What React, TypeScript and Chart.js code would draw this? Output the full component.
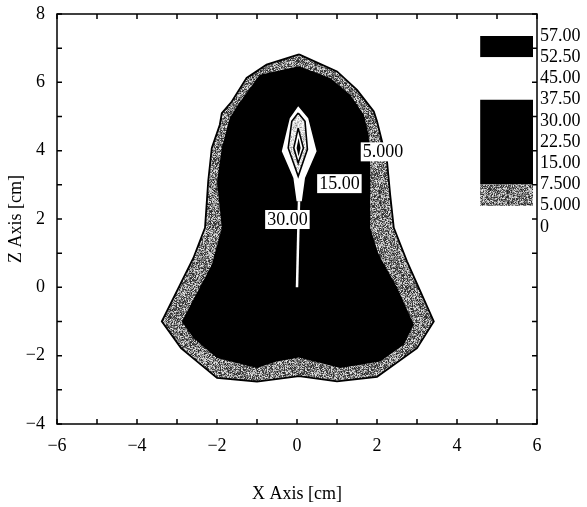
import { useEffect, useRef } from 'react';
import { Chart, registerables } from 'chart.js';

Chart.register(...registerables);

// ---- axis ticks ----
const xTickValues = [-6, -4, -2, 0, 2, 4, 6];
const zTickValues = [-4, -2, 0, 2, 4, 6, 8];

// ---- colour-scale legend ----
const legendLabels = ['57.00', '52.50', '45.00', '37.50', '30.00', '22.50', '15.00', '7.500', '5.000', '0'];
const bandFrom = [0, 1, 3, 7];
const bandTo = [1, 3, 7, 8];
const bandKind = ['black', 'white', 'black', 'gray'];

// ---- contours (x, z in cm) ----
const outerX = [0.05, 1.0, 1.5, 1.92, 2.0, 2.25, 2.33, 2.42, 2.75, 3.42, 3.0, 2.0, 1.0, 0.05, -1.0, -2.0, -2.9, -3.38, -2.59, -2.3, -2.22, -2.13, -1.93, -1.88, -1.63, -1.26, -0.76];
const outerZ = [6.82, 6.32, 5.78, 5.15, 4.86, 3.69, 2.71, 1.74, 0.76, -1.0, -1.78, -2.62, -2.75, -2.6, -2.76, -2.65, -1.78, -1.0, 0.86, 1.74, 3.1, 4.08, 4.76, 5.1, 5.44, 6.13, 6.52];

const innerX = [0.05, 0.83, 1.33, 1.67, 1.79, 1.83, 1.83, 1.83, 2.04, 2.5, 2.92, 2.67, 2.08, 1.08, 0.05, -0.51, -1.0, -2.0, -2.59, -2.88, -2.13, -1.88, -2.0, -1.88, -1.68, -1.47, -0.93];
const innerZ = [6.47, 6.13, 5.64, 5.05, 4.47, 3.69, 2.71, 1.74, 0.96, 0.0, -1.09, -1.68, -2.17, -2.36, -2.05, -2.17, -2.36, -2.07, -1.48, -1.0, 0.66, 1.74, 3.1, 4.08, 4.96, 5.35, 6.22];

const dropX = [0.03, 0.28, 0.49, 0.2, 0.12, -0.01, -0.09, -0.38, -0.18];
const dropZ = [5.3, 4.95, 3.98, 3.2, 2.52, 2.52, 3.2, 3.98, 4.95];

const stemX = [0.05, 0.0];
const stemZ = [2.52, 0.0];

const ring1X = [0.03, 0.2, 0.26, 0.03, -0.22, -0.13];
const ring1Z = [5.1, 4.86, 4.04, 3.25, 4.08, 4.86];

const ring2X = [0.03, 0.16, 0.03, -0.08];
const ring2Z = [4.66, 4.08, 3.64, 4.08];

const coreX = [0.04, 0.09, 0.04, -0.01];
const coreZ = [4.37, 4.08, 3.83, 4.08];

const contourLabelText = ['5.000', '15.00', '30.00'];
const contourLabelX = [2.15, 1.06, -0.24];
const contourLabelZ = [3.98, 3.05, 2.0];

const FONT = "'Liberation Serif', 'Times New Roman', serif";

function fmt(v: number) {
  return v < 0 ? '\u2212' + Math.abs(v) : String(v);
}

function pts(xs: number[], zs: number[], close = true) {
  const p = xs.map((x, i) => ({ x, y: zs[i] }));
  if (close) p.push({ ...p[0] });
  return p;
}

// texture for the dithered bands (style only)
function speckle(ctx: CanvasRenderingContext2D, lo: number, hi: number, bias: number, seed: number) {
  const c = document.createElement('canvas');
  c.width = 64;
  c.height = 64;
  const g = c.getContext('2d')!;
  const img = g.createImageData(64, 64);
  let s = seed;
  for (let i = 0; i < 64 * 64; i++) {
    s = (s * 1103515245 + 12345) & 0x7fffffff;
    const r = Math.pow(s / 0x7fffffff, bias);
    const v = Math.round(lo + (hi - lo) * r);
    img.data[i * 4] = v;
    img.data[i * 4 + 1] = v;
    img.data[i * 4 + 2] = v;
    img.data[i * 4 + 3] = 255;
  }
  g.putImageData(img, 0, 0);
  return ctx.createPattern(c, 'repeat')!;
}

const polyFillPlugin = {
  id: 'polyFill',
  beforeDatasetDraw(chart: any, args: any) {
    const ds = chart.data.datasets[args.index];
    if (!ds.polyFill) return;
    const p = args.meta.data;
    const ctx = chart.ctx;
    ctx.save();
    ctx.beginPath();
    p.forEach((pt: any, i: number) => (i ? ctx.lineTo(pt.x, pt.y) : ctx.moveTo(pt.x, pt.y)));
    ctx.closePath();
    ctx.fillStyle = ds.polyFill;
    ctx.fill();
    ctx.restore();
  },
};

const framePlugin = {
  id: 'frame',
  afterDatasetsDraw(chart: any) {
    const { ctx, chartArea: a, scales } = chart;
    const xs = scales.x;
    const ys = scales.y;
    ctx.save();
    // contour labels
    ctx.font = `18px ${FONT}`;
    ctx.textAlign = 'center';
    ctx.textBaseline = 'middle';
    contourLabelText.forEach((t, i) => {
      const px = xs.getPixelForValue(contourLabelX[i]);
      const py = ys.getPixelForValue(contourLabelZ[i]);
      const w = ctx.measureText(t).width + 4;
      ctx.fillStyle = '#fff';
      ctx.fillRect(px - w / 2, py - 9, w, 19);
      ctx.fillStyle = '#000';
      ctx.fillText(t, px, py + 1);
    });
    // frame
    ctx.strokeStyle = '#000';
    ctx.lineWidth = 1.5;
    ctx.strokeRect(a.left, a.top, a.right - a.left, a.bottom - a.top);
    const L = 5;
    ctx.beginPath();
    for (let v = Math.ceil(xs.min); v <= xs.max; v++) {
      const px = xs.getPixelForValue(v);
      ctx.moveTo(px, a.bottom);
      ctx.lineTo(px, a.bottom - L);
      ctx.moveTo(px, a.top);
      ctx.lineTo(px, a.top + L);
    }
    for (let v = Math.ceil(ys.min); v <= ys.max; v++) {
      const py = ys.getPixelForValue(v);
      ctx.moveTo(a.left, py);
      ctx.lineTo(a.left + L, py);
      ctx.moveTo(a.right, py);
      ctx.lineTo(a.right - L, py);
    }
    ctx.stroke();
    ctx.restore();
  },
};

export default function App() {
  const ref = useRef<HTMLCanvasElement>(null);
  useEffect(() => {
    const canvas = ref.current!;
    const ctx = canvas.getContext('2d')!;
    const gray = speckle(ctx, 35, 235, 1.15, 12345);
    const light = speckle(ctx, 120, 255, 0.35, 777);

    const poly = (xs: number[], zs: number[], fill: any, border?: string, bw = 1.5, extra: any = {}) => ({
      type: 'line',
      data: pts(xs, zs),
      polyFill: fill,
      showLine: !!border,
      borderColor: border || 'rgba(0,0,0,0)',
      borderWidth: bw,
      pointRadius: 0,
      fill: false,
      tension: 0,
      xAxisID: 'x',
      yAxisID: 'y',
      ...extra,
    });

    const bandFillFor = (k: string) => (k === 'gray' ? gray : k === 'black' ? '#000' : '#fff');
    const legendX0 = 4.58;
    const legendX1 = 5.9;

    const list: any[] = [
      poly(outerX, outerZ, gray, '#000', 1.8),
      poly(innerX, innerZ, '#000'),
      poly(dropX, dropZ, '#fff'),
      {
        type: 'line',
        data: pts(stemX, stemZ, false),
        borderColor: '#fff',
        borderWidth: 2.5,
        pointRadius: 0,
        fill: false,
        xAxisID: 'x',
        yAxisID: 'y',
      },
      poly(ring1X, ring1Z, light, '#000', 1.6),
      poly(ring2X, ring2Z, '#fff', '#000', 1.6),
      poly(coreX, coreZ, '#000'),
      ...bandFrom.map((f, i) =>
        poly([legendX0, legendX1, legendX1, legendX0], [f, f, bandTo[i], bandTo[i]], bandFillFor(bandKind[i]), undefined, 1.5, { yAxisID: 'y2' })
      ),
    ];
    const n = list.length;
    list.forEach((d, i) => (d.order = n - i));

    const tickFont = { family: FONT, size: 18 };
    const vFit = (w: number) => (s: any) => {
      s.width = w;
      s.paddingTop = 0;
      s.paddingBottom = 0;
    };
    const chart = new Chart(canvas, {
      type: 'line',
      data: { datasets: list },
      plugins: [polyFillPlugin, framePlugin],
      options: {
        animation: false,
        responsive: false,
        events: [],
        layout: { padding: { top: 14, left: 0, right: 0, bottom: 0 } },
        plugins: { legend: { display: false }, tooltip: { enabled: false } },
        scales: {
          x: {
            type: 'linear',
            position: 'bottom',
            min: -6,
            max: 6,
            grid: { display: false, drawTicks: false },
            border: { display: false },
            afterBuildTicks: (s: any) => {
              s.ticks = xTickValues.map((v) => ({ value: v }));
            },
            ticks: { font: tickFont, color: '#000', padding: 11, maxRotation: 0, autoSkip: false, callback: (v: any) => fmt(Number(v)) },
            title: { display: true, text: 'X Axis [cm]', font: tickFont, color: '#000', padding: { top: 4, bottom: 2 } },
            afterFit: (s: any) => {
              s.height = 83;
              s.paddingLeft = 0;
              s.paddingRight = 0;
            },
          },
          y: {
            type: 'linear',
            position: 'left',
            min: -4,
            max: 8,
            grid: { display: false, drawTicks: false },
            border: { display: false },
            afterBuildTicks: (s: any) => {
              s.ticks = zTickValues.map((v) => ({ value: v }));
            },
            ticks: { font: tickFont, color: '#000', padding: 12, autoSkip: false, callback: (v: any) => fmt(Number(v)) },
            title: { display: true, text: 'Z Axis [cm]', font: tickFont, color: '#000', padding: { top: 5, bottom: 4 } },
            afterFit: vFit(57),
          },
          y2: {
            type: 'linear',
            position: 'right',
            reverse: true,
            min: -1.04,
            max: 18.3,
            grid: { display: false, drawTicks: false },
            border: { display: false },
            afterBuildTicks: (s: any) => {
              s.ticks = legendLabels.map((_, i) => ({ value: i }));
            },
            ticks: { font: tickFont, color: '#000', padding: 3, autoSkip: false, callback: (v: any) => legendLabels[Number(v)] ?? '' },
            afterFit: vFit(50),
          },
        },
      } as any,
    } as any);
    return () => chart.destroy();
  }, []);

  return (
    <div style={{ position: 'absolute', left: 0, top: 0, width: 587, height: 507, background: '#fff' }}>
      <canvas ref={ref} width={587} height={507} style={{ display: 'block' }} />
    </div>
  );
}
